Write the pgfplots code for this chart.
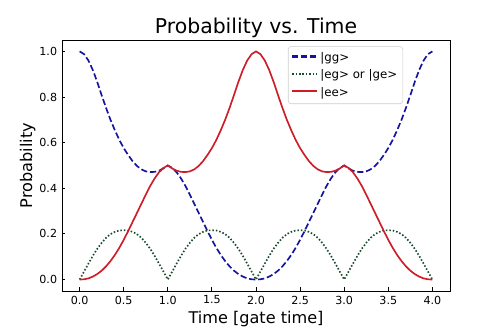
\documentclass[border=0pt]{standalone}
\usepackage{fontspec}
\setmainfont{DejaVu Sans}
\usepackage{pgfplots}
\usepackage{pgfplotstable}
\pgfplotsset{compat=1.18}
\definecolor{ggblue}{RGB}{20,20,160}
\definecolor{eggreen}{RGB}{25,75,45}
\definecolor{eered}{RGB}{205,30,40}

\pgfplotstableread{
t gg ee eg
0.00 1.000 0.000 0.000
0.05 0.988 0.001 0.035
0.10 0.960 0.005 0.070
0.15 0.918 0.013 0.104
0.20 0.866 0.024 0.135
0.25 0.808 0.039 0.161
0.30 0.752 0.058 0.183
0.35 0.700 0.081 0.199
0.40 0.654 0.108 0.209
0.45 0.612 0.139 0.215
0.50 0.576 0.174 0.216
0.55 0.546 0.212 0.215
0.60 0.519 0.252 0.209
0.65 0.498 0.292 0.199
0.70 0.483 0.332 0.183
0.75 0.474 0.372 0.161
0.80 0.471 0.410 0.135
0.85 0.472 0.443 0.104
0.90 0.477 0.470 0.070
0.95 0.487 0.489 0.035
1.00 0.500 0.500 0.000
1.05 0.489 0.487 0.035
1.10 0.470 0.477 0.070
1.15 0.443 0.472 0.104
1.20 0.410 0.471 0.135
1.25 0.372 0.474 0.161
1.30 0.332 0.483 0.183
1.35 0.292 0.498 0.199
1.40 0.252 0.519 0.209
1.45 0.212 0.546 0.215
1.50 0.174 0.576 0.216
1.55 0.139 0.612 0.215
1.60 0.108 0.654 0.209
1.65 0.081 0.700 0.199
1.70 0.058 0.752 0.183
1.75 0.039 0.808 0.161
1.80 0.024 0.866 0.135
1.85 0.013 0.918 0.104
1.90 0.005 0.960 0.070
1.95 0.001 0.988 0.035
2.00 0.000 1.000 0.000
2.05 0.001 0.988 0.035
2.10 0.005 0.960 0.070
2.15 0.013 0.918 0.104
2.20 0.024 0.866 0.135
2.25 0.039 0.808 0.161
2.30 0.058 0.752 0.183
2.35 0.081 0.700 0.199
2.40 0.108 0.654 0.209
2.45 0.139 0.612 0.215
2.50 0.174 0.576 0.216
2.55 0.212 0.546 0.215
2.60 0.252 0.519 0.209
2.65 0.292 0.498 0.199
2.70 0.332 0.483 0.183
2.75 0.372 0.474 0.161
2.80 0.410 0.471 0.135
2.85 0.443 0.472 0.104
2.90 0.470 0.477 0.070
2.95 0.489 0.487 0.035
3.00 0.500 0.500 0.000
3.05 0.487 0.489 0.035
3.10 0.477 0.470 0.070
3.15 0.472 0.443 0.104
3.20 0.471 0.410 0.135
3.25 0.474 0.372 0.161
3.30 0.483 0.332 0.183
3.35 0.498 0.292 0.199
3.40 0.519 0.252 0.209
3.45 0.546 0.212 0.215
3.50 0.576 0.174 0.216
3.55 0.612 0.139 0.215
3.60 0.654 0.108 0.209
3.65 0.700 0.081 0.199
3.70 0.752 0.058 0.183
3.75 0.808 0.039 0.161
3.80 0.866 0.024 0.135
3.85 0.918 0.013 0.104
3.90 0.960 0.005 0.070
3.95 0.988 0.001 0.035
4.00 1.000 0.000 0.000
}\probdata

\begin{document}
\begin{tikzpicture}
\begin{axis}[
  scale only axis,
  width=279.4pt, height=180.7pt,
  xmin=-0.2, xmax=4.2, ymin=-0.05, ymax=1.05,
  xtick={0,0.5,1,1.5,2,2.5,3,3.5,4},
  ytick={0,0.2,0.4,0.6,0.8,1.0},
  tick align=inside, tick pos=left,
  major tick length=2.5pt,
  axis line style={line width=0.6pt},
  tick style={line width=0.6pt, black},
  tick label style={font=\fontsize{8}{9}\selectfont},
  title={Probability vs. Time},
  title style={font=\fontsize{14.7}{17}\selectfont, yshift=-8pt},
  xlabel={Time [gate time]},
  ylabel={Probability},
  label style={font=\fontsize{11.6}{13}\selectfont},
  xlabel style={yshift=2pt},
  ylabel style={yshift=-4pt},
  legend cell align=left,
  legend style={at={(0.879,0.975)}, anchor=north east, draw=black!20,
    rounded corners=2pt, font=\fontsize{8.5}{10}\selectfont,
    row sep=0.6pt, inner sep=2pt},
  legend image code/.code={\draw[#1, line width=1.5pt] (0cm,0.03cm) -- (0.62cm,0.03cm);},
  /pgf/number format/.cd, fixed, fixed zerofill, precision=1, assume math mode=true
]
\addplot[draw=ggblue, line width=1.2pt, dash pattern=on 4.5pt off 2pt] table[x=t, y=gg] {\probdata};
\addlegendentry{|gg>}
\addplot[draw=eggreen, line width=1.2pt, dash pattern=on 1.1pt off 1.4pt] table[x=t, y=eg] {\probdata};
\addlegendentry{|eg> or |ge>}
\addplot[draw=eered, line width=1.2pt] table[x=t, y=ee] {\probdata};
\addlegendentry{|ee>}
\end{axis}
\pgfresetboundingbox
\path ([shift={(-44.64pt,-30.24pt)}]current axis.south west) rectangle ([shift={(36pt,28.8pt)}]current axis.north east);
\end{tikzpicture}
\end{document}
